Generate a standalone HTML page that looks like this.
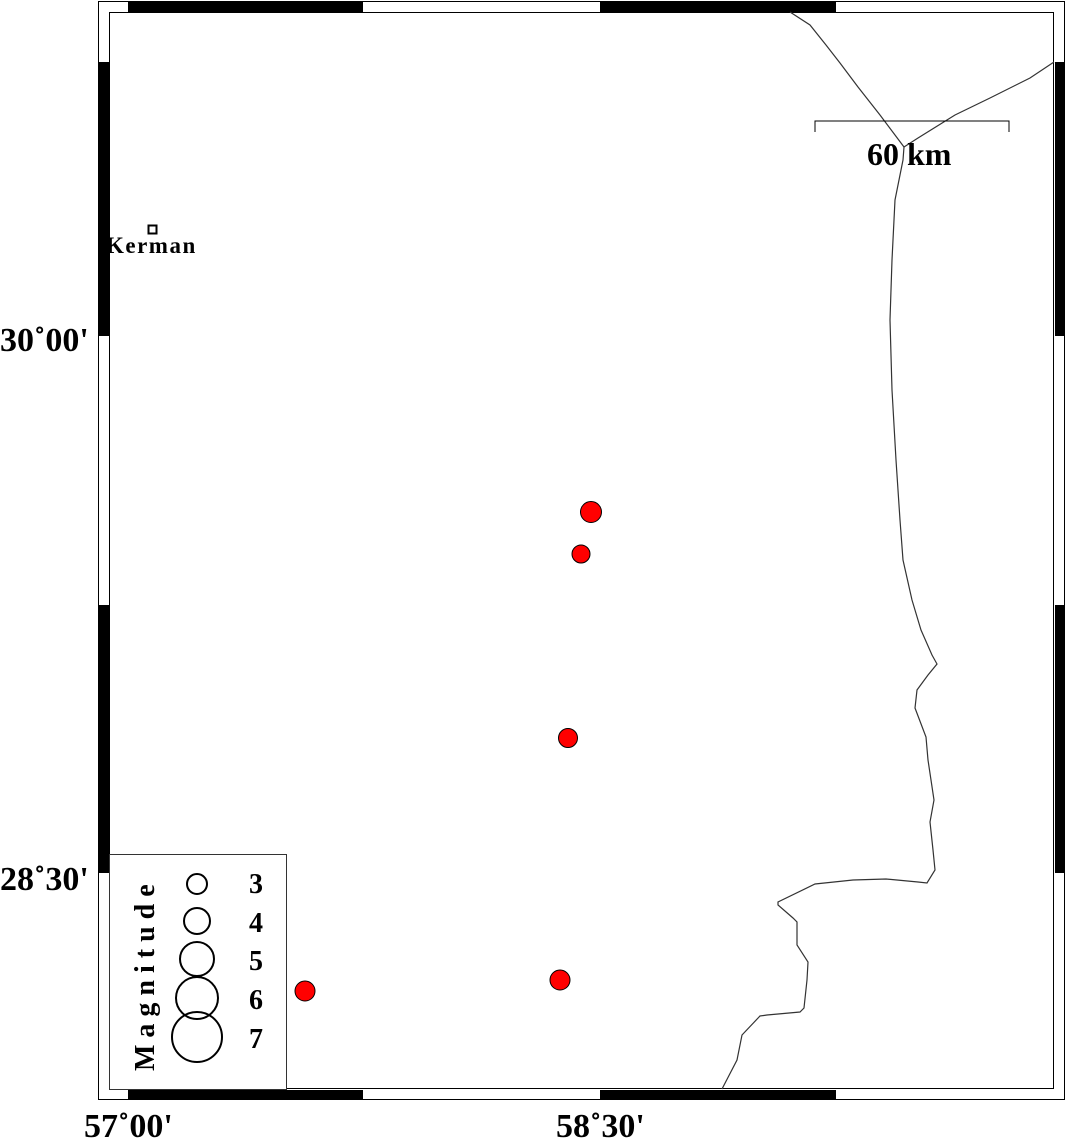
<!DOCTYPE html>
<html><head><style>
html,body{margin:0;padding:0;background:#fff;}
svg text{font-family:"Liberation Serif",serif;font-weight:bold;}
</style></head><body>
<svg width="1066" height="1139" viewBox="0 0 1066 1139" xmlns="http://www.w3.org/2000/svg">
<rect width="1066" height="1139" fill="#fff"/>
<!-- frame -->
<g stroke="#000" stroke-width="1" fill="#fff">
<rect x="98.5" y="1.5" width="966" height="1098"/>
<rect x="109.5" y="12.5" width="944" height="1076"/>
</g>
<g fill="#000">
<rect x="128" y="2" width="235" height="10"/>
<rect x="600" y="2" width="236" height="10"/>
<rect x="128" y="1090" width="235" height="10"/>
<rect x="600" y="1090" width="236" height="10"/>
<rect x="99" y="62" width="10" height="274"/>
<rect x="99" y="605" width="10" height="268"/>
<rect x="1055" y="62" width="10" height="274"/>
<rect x="1055" y="605" width="10" height="268"/>
</g>
<!-- coastline -->
<g fill="none" stroke="#333" stroke-width="1.2">
<polyline points="790,12 810,25 826,45 840,63 858,87 880,115 904,147"/>
<polyline points="1054,62 1030,78 990,98 955,115 918,138 904,147"/>
<polyline points="904,147 903,160 895,200 892,260 890,320 892,390 896,460 900,520 903,560 912,600 921,630 932,655 937,664 928,675 917,690 915,708 926,737 928,760 934,800 930,822 933,850 935,870 927,883 918,882 886,879 853,880 815,884 778,902 778,905 793,918 797,922 797,945 808,962 807,980 804,1008 800,1012 767,1015 760,1016 742,1035 737,1060 722,1089"/>
</g>
<!-- labels -->
<g font-size="34" fill="#000">
<text x="0" y="351">30˚00'</text>
<text x="0" y="890">28˚30'</text>
<text x="84" y="1137">57˚00'</text>
<text x="556" y="1137">58˚30'</text>
</g>
<!-- scale bar -->
<polyline points="815,132 815,121 1009,121 1009,132" fill="none" stroke="#000" stroke-width="1"/>
<text x="867" y="165" font-size="32">60 km</text>
<!-- Kerman -->
<rect x="148.5" y="225.5" width="8" height="8" fill="#fff" stroke="#000" stroke-width="2"/>
<text x="106" y="253" font-size="23" letter-spacing="1.5">Kerman</text>
<!-- events -->
<g fill="#f00" stroke="#000" stroke-width="1">
<circle cx="591" cy="512" r="10.5"/>
<circle cx="581" cy="554" r="9"/>
<circle cx="568" cy="738" r="9.5"/>
<circle cx="560" cy="980" r="10"/>
<circle cx="305" cy="991" r="10"/>
</g>
<!-- legend -->
<rect x="109.5" y="854.5" width="177" height="235" fill="#fff" stroke="#333" stroke-width="1"/>
<g fill="none" stroke="#000" stroke-width="2">
<circle cx="197" cy="884" r="10"/>
<circle cx="197" cy="921" r="13"/>
<circle cx="197" cy="959" r="17"/>
<circle cx="197" cy="998" r="21"/>
<circle cx="197" cy="1037" r="25"/>
</g>
<g font-size="28">
<text x="249" y="893">3</text>
<text x="249" y="932">4</text>
<text x="249" y="970">5</text>
<text x="249" y="1009">6</text>
<text x="249" y="1048">7</text>
</g>
<text transform="translate(154,1071) rotate(-90)" font-size="28" letter-spacing="7">Magnitude</text>
</svg>
</body></html>
